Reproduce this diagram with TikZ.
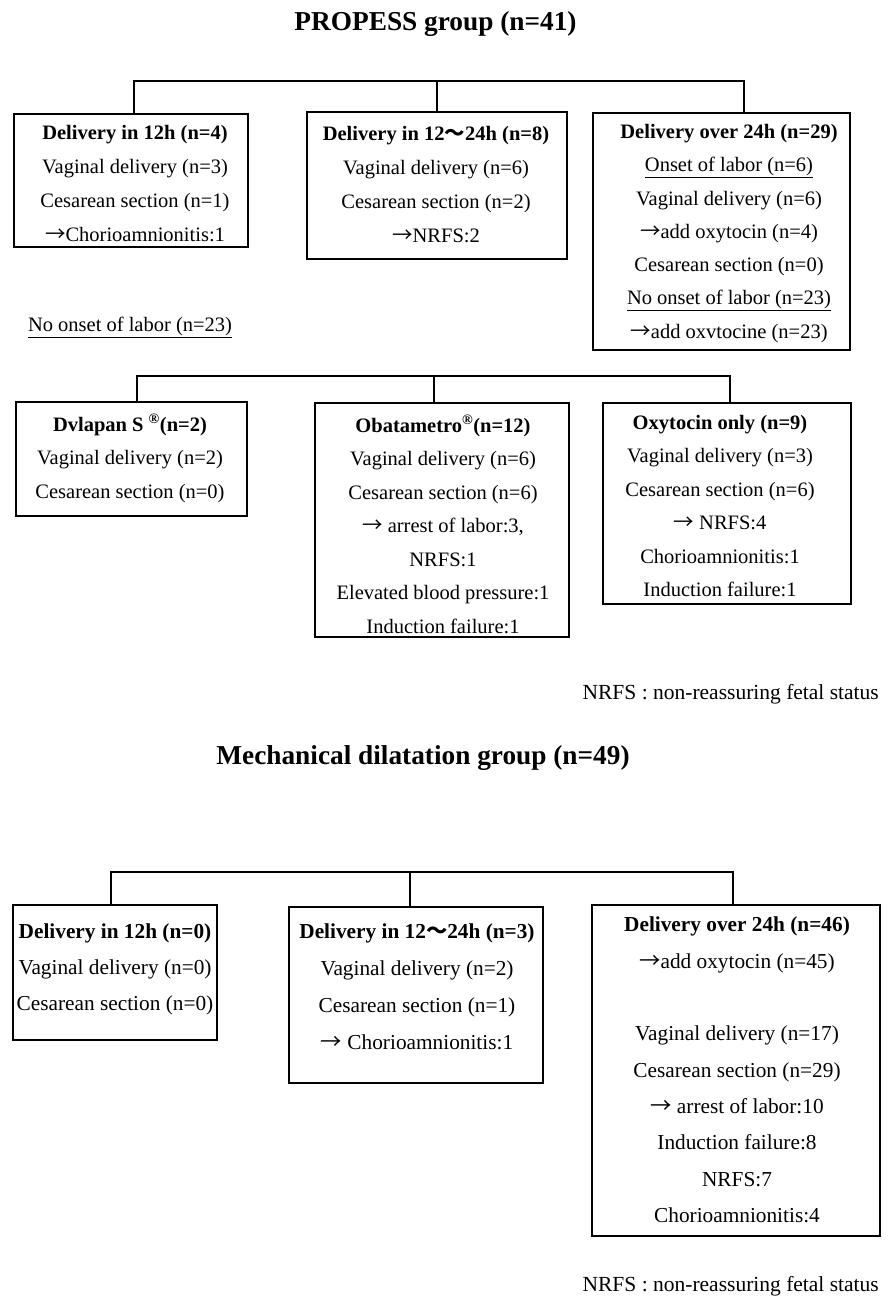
\documentclass[tikz,border=0pt]{standalone}
\usepackage{fontspec}
\setmainfont{Liberation Serif}
\newfontfamily\cjkfont{Noto Sans CJK JP}
\newcommand{\wavedash}{{\cjkfont ～}}
\newcommand{\arr}{{\cjkfont →}}
\begin{document}
\begin{tikzpicture}[x=1pt,y=-1pt,
  box/.style={draw, line width=1.8pt, rectangle, inner sep=0pt, outer sep=0pt, anchor=north west},
  conn/.style={line width=1.8pt},
  txt/.style={align=center, inner sep=0pt, anchor=north},
  ttl/.style={font=\fontsize{27.3}{32}\selectfont\bfseries, inner sep=0pt, anchor=base},
  fnote/.style={font=\fontsize{21.5}{26}\selectfont, inner sep=0pt, anchor=base east}]
\fill[white] (0,0) rectangle (887,1304);
\useasboundingbox (0,0) rectangle (887,1304);

% ---------- PROPESS group ----------
\node[ttl] (title1) at (435.5,30) {PROPESS group (n=41)};

\node[box, minimum width=234pt, minimum height=133pt] (A1) at (14,114) {};
\node[box, minimum width=260pt, minimum height=147pt] (A2) at (307,112) {};
\node[box, minimum width=257pt, minimum height=237pt] (A3) at (593,113) {};

\node[txt, font=\fontsize{20.5}{34}\selectfont] (A1t) at (135,125)
  {\textbf{Delivery in 12h (n=4)}\\Vaginal delivery (n=3)\\Cesarean section (n=1)\\\arr Chorioamnionitis:1};
\node[txt, font=\fontsize{20.5}{34}\selectfont] (A2t) at (436,126)
  {\textbf{Delivery in 12\wavedash24h (n=8)}\\Vaginal delivery (n=6)\\Cesarean section (n=2)\\\arr NRFS:2};
\node[txt, font=\fontsize{20.5}{33.3}\selectfont] (A3t) at (729,124)
  {\textbf{Delivery over 24h (n=29)}\\\underline{Onset of labor (n=6)}\\Vaginal delivery (n=6)\\\arr add oxytocin (n=4)\\Cesarean section (n=0)\\\underline{No onset of labor (n=23)}\\\arr add oxvtocine (n=23)};

\coordinate (ta) at (134,81);
\coordinate (tm) at (437,81);
\coordinate (tb) at (744,81);
\draw[conn] (ta |- A1.north) -- (ta) -- (tb) -- (tb |- A3.north);
\draw[conn] (tm) -- (tm |- A2.north);

\node[font=\fontsize{20.5}{34}\selectfont, inner sep=0pt, anchor=base] (noonset) at (130,331) {\underline{No onset of labor (n=23)}};

\node[box, minimum width=231pt, minimum height=114pt] (B1) at (16,402) {};
\node[box, minimum width=254pt, minimum height=234pt] (B2) at (315,403) {};
\node[box, minimum width=248pt, minimum height=201pt] (B3) at (603,403) {};

\node[txt, font=\fontsize{20.5}{33.5}\selectfont] (B1t) at (130,414)
  {\textbf{Dvlapan S \textsuperscript{®}(n=2)}\\Vaginal delivery (n=2)\\Cesarean section (n=0)};
\node[txt, font=\fontsize{20.5}{33.5}\selectfont] (B2t) at (443,415)
  {\textbf{Obatametro\textsuperscript{®}(n=12)}\\Vaginal delivery (n=6)\\Cesarean section (n=6)\\\arr{} arrest of labor:3,\\NRFS:1\\Elevated blood pressure:1\\Induction failure:1};
\node[txt, font=\fontsize{20.5}{33.5}\selectfont] (B3t) at (720,415)
  {\textbf{Oxytocin only (n=9)}\\Vaginal delivery (n=3)\\Cesarean section (n=6)\\\arr{} NRFS:4\\Chorioamnionitis:1\\Induction failure:1};

\coordinate (ma) at (137,376);
\coordinate (mm) at (434,376);
\coordinate (mb) at (730,376);
\draw[conn] (ma |- B1.north) -- (ma) -- (mb) -- (mb |- B3.north);
\draw[conn] (mm) -- (mm |- B2.north);

\node[fnote] (fn1) at (879,699) {NRFS : non-reassuring fetal status};

% ---------- Mechanical dilatation group ----------
\node[ttl] (title2) at (423,764) {Mechanical dilatation group (n=49)};

\node[box, minimum width=204pt, minimum height=135pt] (C1) at (13,905) {};
\node[box, minimum width=254pt, minimum height=176pt] (C2) at (289,907) {};
\node[box, minimum width=288pt, minimum height=331pt] (C3) at (592,905) {};

\node[txt, font=\fontsize{21.3}{36}\selectfont] (C1t) at (115,924)
  {\textbf{Delivery in 12h (n=0)}\\Vaginal delivery (n=0)\\Cesarean section (n=0)};
\node[txt, font=\fontsize{21.3}{36.7}\selectfont] (C2t) at (417,924)
  {\textbf{Delivery in 12\wavedash24h (n=3)}\\Vaginal delivery (n=2)\\Cesarean section (n=1)\\\arr{} Chorioamnionitis:1};
\node[txt, font=\fontsize{21.3}{36.3}\selectfont] (C3t) at (737,917)
  {\textbf{Delivery over 24h (n=46)}\\\arr add oxytocin (n=45)\\[36.3pt]Vaginal delivery (n=17)\\Cesarean section (n=29)\\\arr{} arrest of labor:10\\Induction failure:8\\NRFS:7\\Chorioamnionitis:4};

\coordinate (ba) at (111,872);
\coordinate (bm) at (410,872);
\coordinate (bb) at (733,872);
\draw[conn] (ba |- C1.north) -- (ba) -- (bb) -- (bb |- C3.north);
\draw[conn] (bm) -- (bm |- C2.north);

\node[fnote] (fn2) at (879,1291) {NRFS : non-reassuring fetal status};
\end{tikzpicture}
\end{document}
